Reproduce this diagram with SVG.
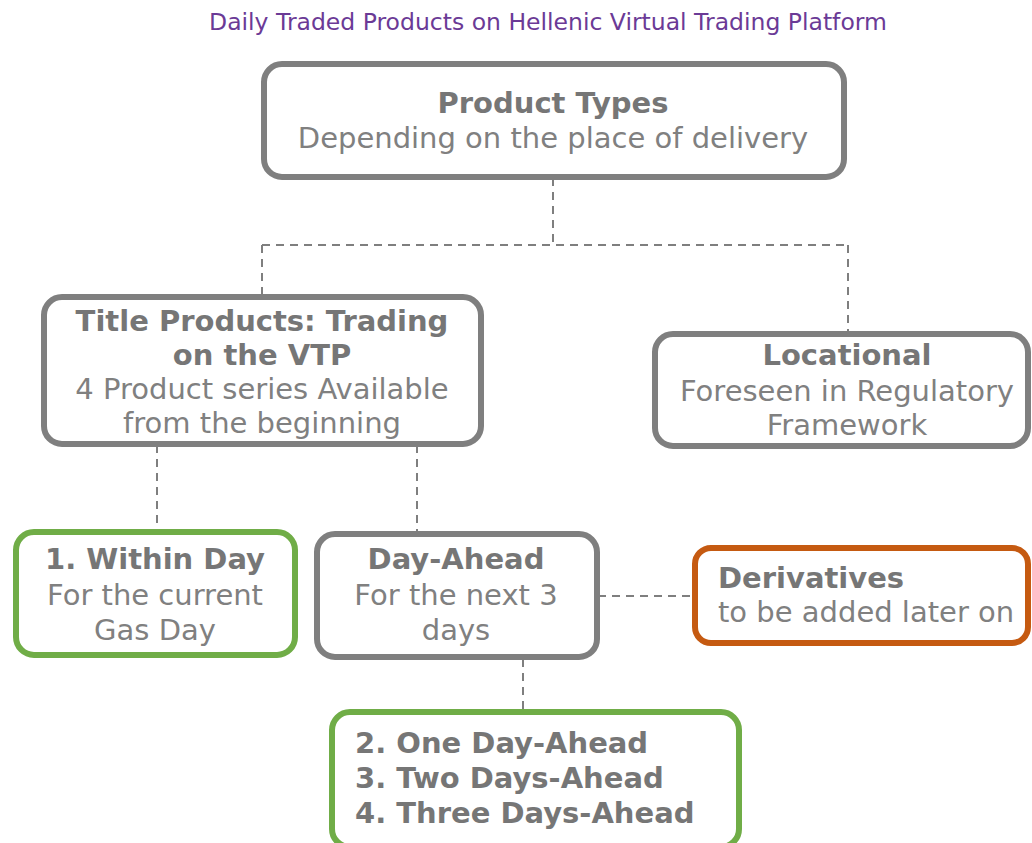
<svg xmlns="http://www.w3.org/2000/svg" width="1032" height="843" viewBox="0 0 1032 843">
<style>
text{font-family:"DejaVu Sans",Verdana,sans-serif;fill:#808080;font-size:29px}
.t{font-size:23.5px;fill:#6b3a96}
.b{font-weight:bold;fill:#767676}
.c{text-anchor:middle}
.box{fill:#fff;stroke-width:6}
.g{stroke:#7f7f7f}
.gr{stroke:#70ad47}
.or{stroke:#c55a11}
.conn{fill:none;stroke:#7f7f7f;stroke-width:2;stroke-dasharray:8,6}
</style>
<rect width="1032" height="843" fill="#fff"/>
<text class="t c" x="548" y="30">Daily Traded Products on Hellenic Virtual Trading Platform</text>
<g id="connectors">
<path class="conn" d="M553,178 V245 M262,245 H848 M262,245 V295 M848,245 V333"/>
<path class="conn" d="M157,445 V530 M417,445 V532"/>
<path class="conn" d="M598,596 H693"/>
<path class="conn" d="M523,659 V710"/>
</g>
<g id="product-types">
<rect class="box g" x="264" y="64" width="580" height="113" rx="18"/>
<text class="b c" x="553" y="113">Product Types</text>
<text class="c" x="553" y="148">Depending on the place of delivery</text>
</g>
<g id="title-products">
<rect class="box g" x="44" y="297" width="437" height="147" rx="18"/>
<text class="b c" x="262" y="331">Title Products: Trading</text>
<text class="b c" x="262" y="365">on the VTP</text>
<text class="c" x="262" y="399">4 Product series Available</text>
<text class="c" x="262" y="433">from the beginning</text>
</g>
<g id="locational">
<rect class="box g" x="655" y="334" width="373" height="112" rx="18"/>
<text class="b c" x="847" y="365">Locational</text>
<text class="c" x="847" y="401">Foreseen in Regulatory</text>
<text class="c" x="847" y="435">Framework</text>
</g>
<g id="within-day">
<rect class="box gr" x="16" y="532" width="279" height="123" rx="18"/>
<text class="b c" x="155" y="569">1. Within Day</text>
<text class="c" x="155" y="605">For the current</text>
<text class="c" x="155" y="640">Gas Day</text>
</g>
<g id="day-ahead">
<rect class="box g" x="317" y="534" width="280" height="123" rx="18"/>
<text class="b c" x="456" y="569">Day-Ahead</text>
<text class="c" x="456" y="605">For the next 3</text>
<text class="c" x="456" y="640">days</text>
</g>
<g id="derivatives">
<rect class="box or" x="695" y="548" width="333" height="95" rx="16"/>
<text class="b" x="718" y="588">Derivatives</text>
<text x="718" y="622">to be added later on</text>
</g>
<g id="day-ahead-products">
<rect class="box gr" x="332" y="712" width="407" height="135" rx="18"/>
<text class="b" x="355" y="753">2. One Day-Ahead</text>
<text class="b" x="355" y="788">3. Two Days-Ahead</text>
<text class="b" x="355" y="823">4. Three Days-Ahead</text>
</g>
</svg>
